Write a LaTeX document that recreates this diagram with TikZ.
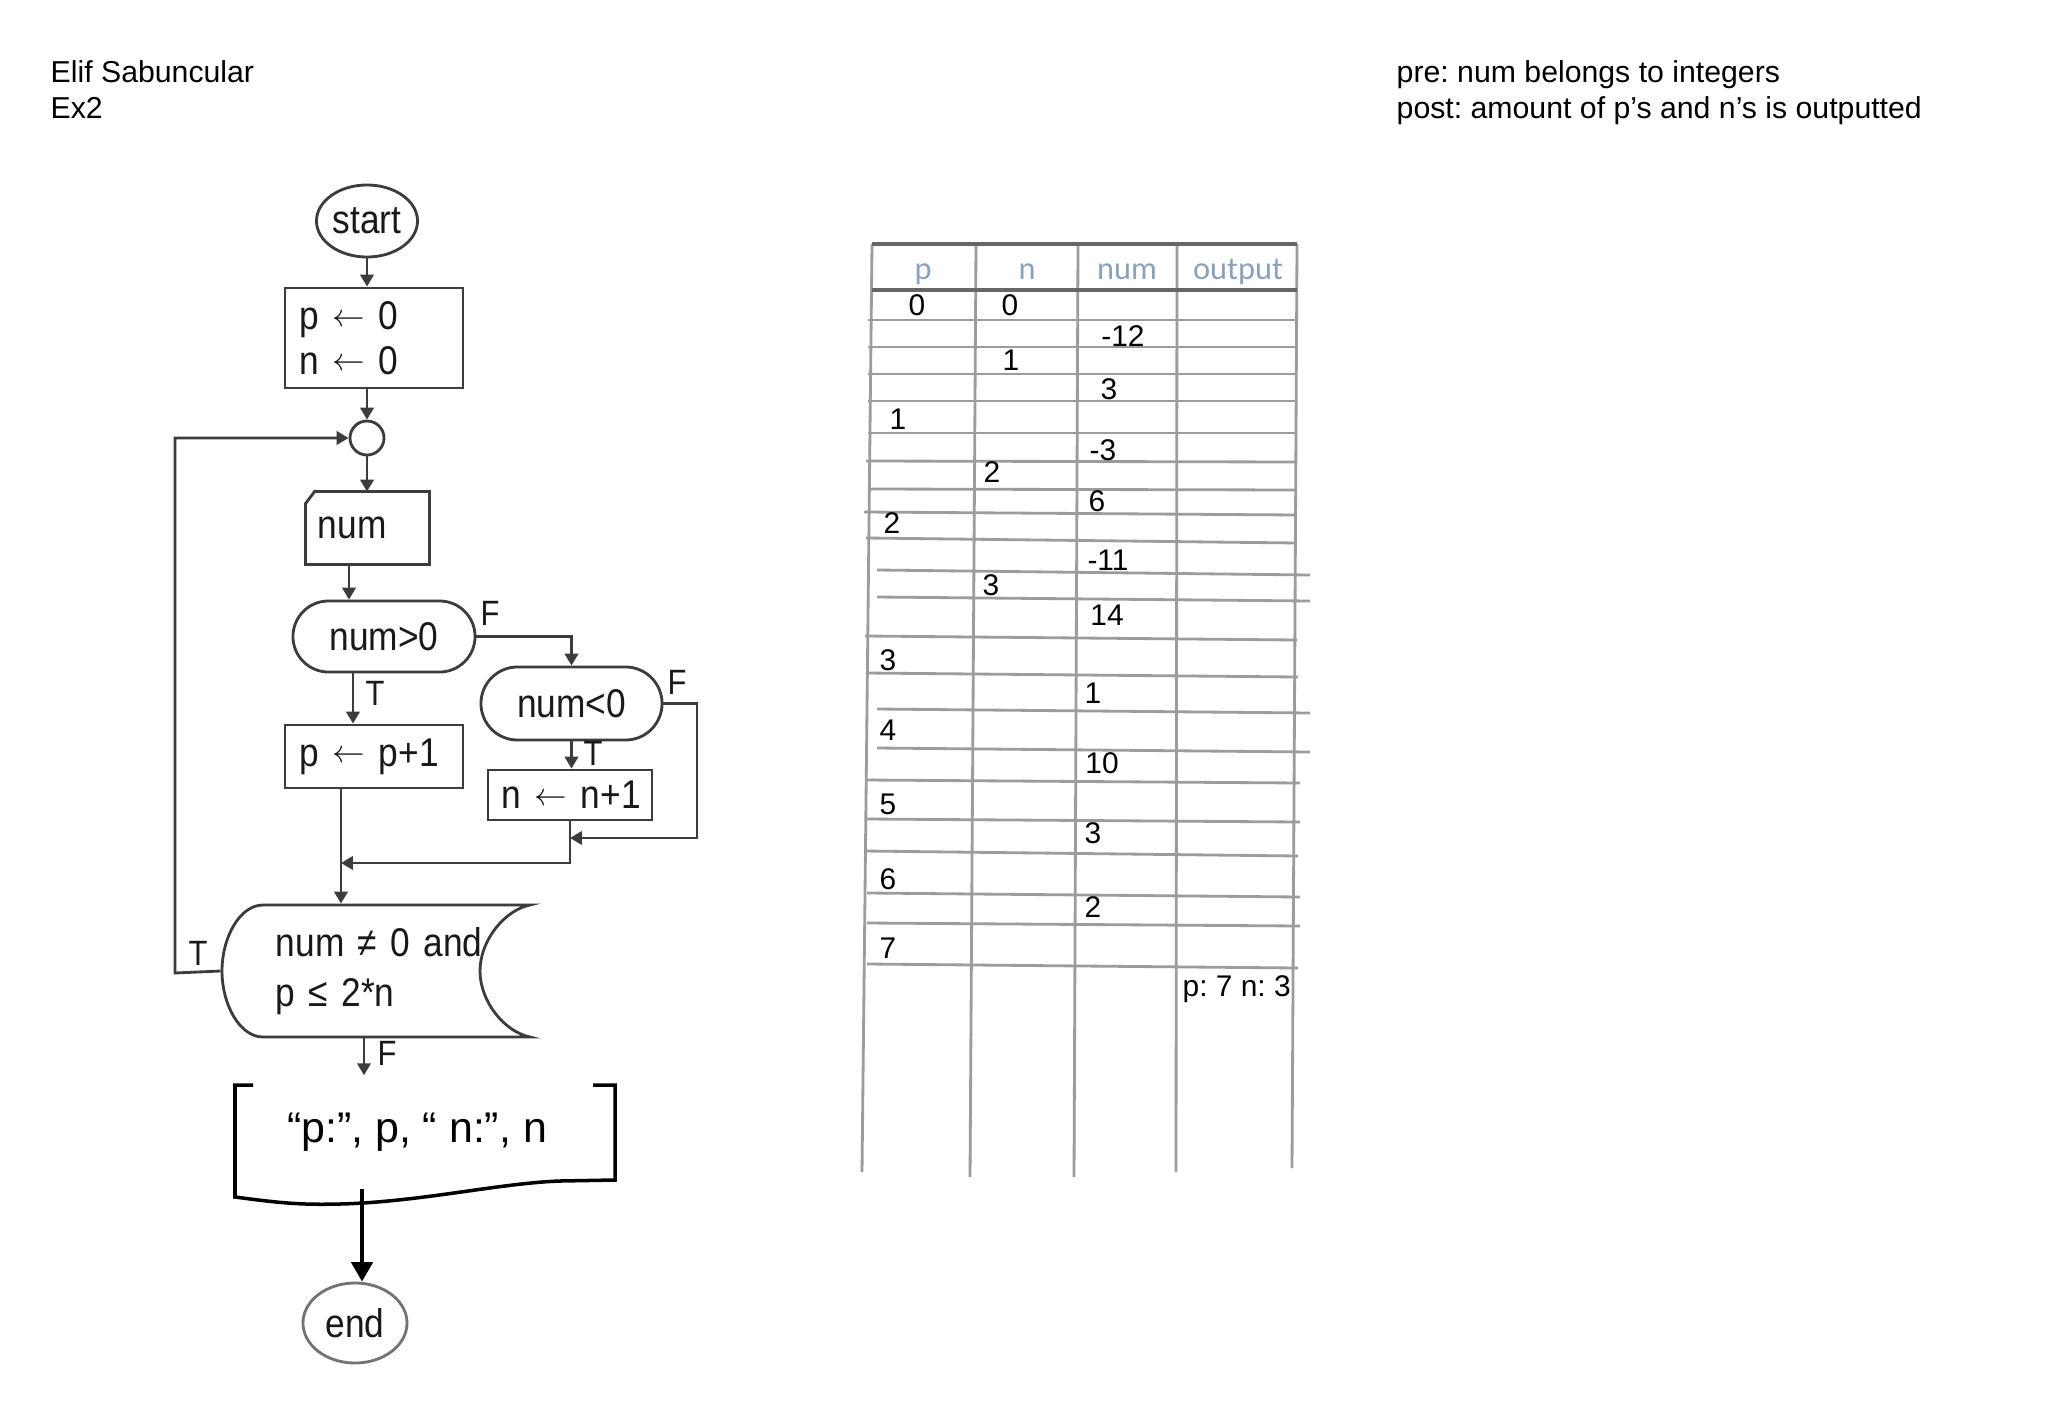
\documentclass[tikz,border=0pt]{standalone}
\usepackage{fontspec}
\setmainfont{Liberation Sans}
\newfontfamily\flowfont[FakeStretch=0.88]{Liberation Sans}
\newfontfamily\hdrfont{Carlito}
\usetikzlibrary{shapes.geometric,shapes.misc,arrows.meta}
\definecolor{flowline}{HTML}{3C3C3C}
\definecolor{gridline}{HTML}{9C9C9C}
\definecolor{hdrblue}{HTML}{8AA0BC}
\newcommand{\larr}{\raisebox{0.15ex}{\fontsize{9}{9}\selectfont$\leftarrow$}}
\frenchspacing

\begin{document}
\begin{tikzpicture}[x=0.01cm,y=-0.01cm,
    flow/.style={draw=flowline,line width=0.8pt,text=black!90,font=\flowfont\fontsize{11.4}{14.2}\selectfont},
    terminal/.style={flow,ellipse,inner sep=0pt},
    procbox/.style={flow,rectangle,align=left,inner xsep=0.15cm,inner ysep=0pt},
    decision/.style={flow,rounded rectangle,inner sep=0pt},
    arrow/.style={draw=flowline,line width=0.8pt,-{Triangle[length=3.4pt,width=3.8pt]}},
    lbl/.style={inner sep=0pt,text=black!90,font=\flowfont\fontsize{10}{12}\selectfont},
    note/.style={anchor=base west,inner sep=0pt,font=\fontsize{8.6}{10}\selectfont},
    cell/.style={inner sep=0pt,font=\fontsize{8.5}{10}\selectfont},
    colhead/.style={anchor=base,inner sep=0pt,text=hdrblue,font=\hdrfont\fontsize{9.2}{11}\selectfont},
    grid/.style={draw=gridline,line width=0.8pt}]
    \fill[white] (0,0) rectangle (2046,1400);
    \useasboundingbox (0,0) rectangle (2046,1400);

    % header
    \node[note] (author) at (50,83) {Elif Sabuncular};
    \node[note] (exno) at (50,119) {Ex2};
    \node[note] (pre) at (1396,83) {pre: num belongs to integers};
    \node[note] (post) at (1396,119) {post: amount of p’s and n’s is outputted};

    % flowchart
    \node[terminal,minimum width=1.01cm,minimum height=0.72cm] (start) at (367,221) {start};
    \node[procbox,text width=1.48cm,minimum height=1.0cm] (init) at (374,338) {p~\larr{}~0\\[-1.5pt]n~\larr{}~0};
    \node[flow,circle,minimum size=0.34cm,inner sep=0pt] (join) at (367,438) {};
    \node[flow,draw=none,align=left,text width=0.99cm,inner xsep=0.11cm,inner ysep=0pt,minimum height=0.70cm] (num) at (367.5,528) {num};
    \draw[flow] ([xshift=0.09cm]num.north west) -- (num.north east) -- (num.south east) -- (num.south west) -- ([yshift=-0.12cm]num.north west) -- cycle;
    \node[decision,minimum width=1.82cm,minimum height=0.71cm] (pos) at (384,636.5) {num>0};
    \node[decision,minimum width=1.81cm,minimum height=0.73cm] (neg) at (571.5,703.5) {num<0};
    \node[procbox,text width=1.48cm,minimum height=0.63cm] (incp) at (374,756.5) {p~\larr{}~p+1};
    \node[procbox,text width=1.36cm,inner xsep=0.14cm,minimum height=0.50cm] (incn) at (570,795) {n~\larr{}~n+1};
    \node[flow,draw=none,align=left,text width=2.0cm,minimum width=3.08cm,minimum height=1.32cm,inner sep=0pt] (cond) at (376,971) {num~≠~0~and\\p~≤~2*n};
    \draw[flow] (263,905) -- (530,905) .. controls (505,910) and (480,940) .. (480,971)
        .. controls (480,1002) and (505,1032) .. (530,1037) -- (263,1037)
        .. controls (240,1037) and (222,1005) .. (222,971)
        .. controls (222,937) and (240,905) .. (263,905) -- cycle;
    \node[draw=none,minimum width=3.8cm,minimum height=1.12cm,inner sep=0pt,font=\fontsize{12.2}{14}\selectfont] (out) at (417,1132) {“p:”, p, “ n:”, n};
    \draw[line width=1pt] (253,1085) -- (235,1085) -- (235,1197)
        .. controls (280,1203) and (300,1205) .. (340,1204)
        .. controls (420,1202) and (500,1183) .. (560,1181) -- (615,1180) -- (615,1085) -- (593,1085);
    \node[terminal,draw=black!55,minimum width=1.04cm,minimum height=0.80cm] (end) at (355,1323) {end};

    % connectors
    \coordinate (numout) at ([xshift=-0.185cm]num.south);
    \coordinate (posout) at ([xshift=-0.31cm]pos.south);
    \coordinate (pout) at ([xshift=-0.33cm]incp.south);
    \coordinate (condout) at ([xshift=-0.12cm]cond.south);
    \coordinate (endin) at ([xshift=0.07cm]end.north);
    \coordinate (negturn) at (697,838);
    \coordinate (merge) at (341,863);
    \coordinate (loop) at (175,973);
    \draw[arrow] (start.south) -- (start.south |- init.north);
    \draw[arrow] (join.north |- init.south) -- (join.north);
    \draw[arrow] (join.south) -- (join.south |- num.north);
    \draw[arrow] (numout) -- (numout |- pos.north);
    \draw[arrow] (pos.east) -| (neg.north);
    \draw[arrow] (posout) -- (posout |- incp.north);
    \draw[arrow] (neg.south) -- (neg.south |- incn.north);
    \draw[arrow] (neg.east) -| (negturn) -- (incn.south |- negturn);
    \draw[arrow] (incn.south) |- (merge);
    \draw[arrow] (pout) -- (pout |- cond.north);
    \draw[arrow] (cond.west) -- (loop) |- (join.west);
    \draw[arrow] (condout) -- (condout |- out.north);
    \draw[line width=1.1pt,-{Triangle[length=5.5pt,width=6pt]}] (endin |- out.south) -- (endin);

    \node[lbl] (fpos) at (490,613) {F};
    \node[lbl] (tpos) at (375,693) {T};
    \node[lbl] (fneg) at (677,682) {F};
    \node[lbl] (tneg) at (593,753) {T};
    \node[lbl] (tcond) at (198,953) {T};
    \node[lbl] (fcond) at (387,1053) {F};

    % trace table
    \foreach \xa/\xb/\yb in {872/862/1172,976/970/1177,1078/1074/1177,1177/1176/1172,1297/1292/1168}
        \draw[grid] (\xa,244) -- (\xb,\yb);
    \foreach \xl/\yl/\xr/\yr in {868/320/1297/320,868/347/1297/347,868/374/1297/374,868/401/1297/401,
        868/433/1297/433,866/461/1297/462,868/489/1297/490,864/512/1297/515,866/538/1297/543,
        877/570/1310/575,877/597/1310/601,865/636/1297/640,866/673/1298/677,877/709/1310/713,
        877/748/1310/752,867/780/1300/783,867/819/1300/822,864/851/1298/856,867/893/1300/897,
        867/923/1300/926,867/964/1298/968}
        \draw[grid] (\xl,\yl) -- (\xr,\yr);
    \draw[draw=black!60,line width=0.9pt] (872,244) -- (1297,244) (872,290) -- (1297,290);
    \foreach \x/\t [count=\i] in {923/p,1027/n,1127/num,1238/output}
        \node[colhead] (head\i) at (\x,279) {\t};
    \foreach \x/\y/\t [count=\i] in {917/305/0,1010/305/0,1123/336/-12,1011/360/1,1109/389/3,
        898/419/1,1103/450/-3,992/472/2,1097/501/6,892/523/2,1108/560/-11,991/585/3,1107/615/14,
        888/660/3,1093/693/1,888/730/4,1102/763/10,888/804/5,1093/833/3,888/879/6,1093/907/2,888/948/7}
        \node[cell] (val\i) at (\x,\y) {\t};
    \node[cell,anchor=base west] (result) at (1182,996) {p: 7 n: 3};
\end{tikzpicture}
\end{document}
